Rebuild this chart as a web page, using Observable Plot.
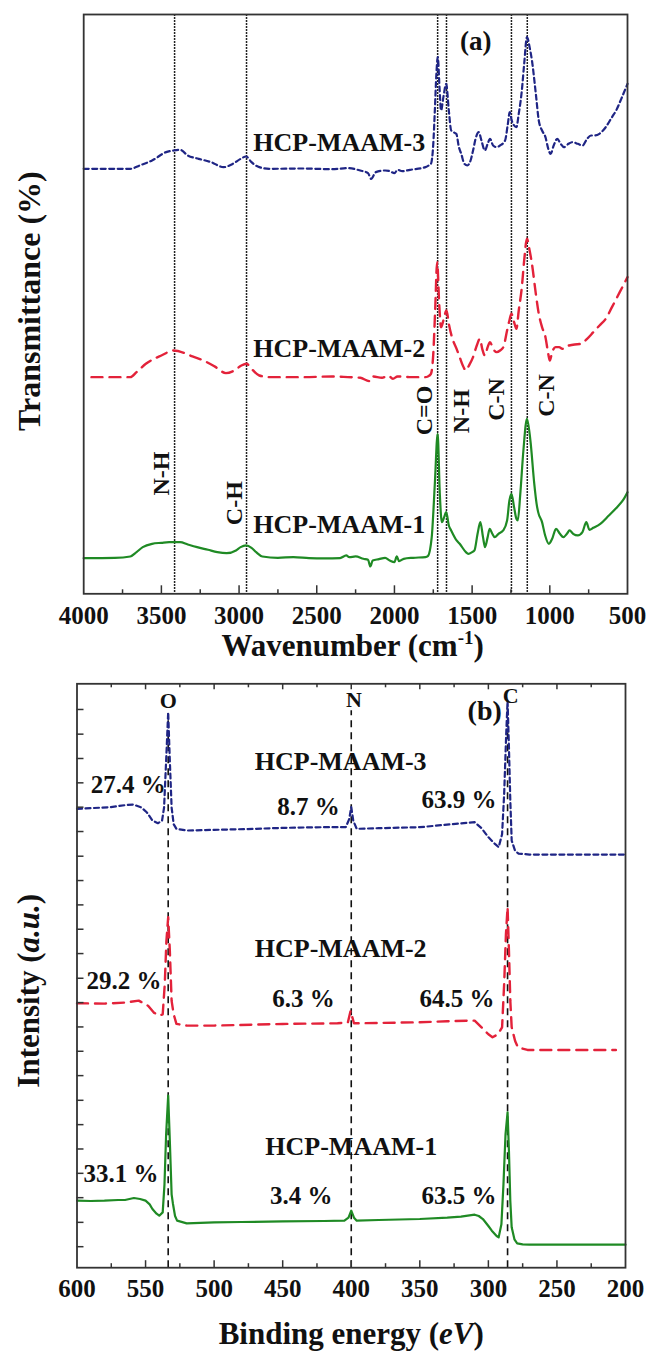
<!DOCTYPE html>
<html><head><meta charset="utf-8">
<script src="https://cdn.jsdelivr.net/npm/d3@7"></script>
<script src="https://cdn.jsdelivr.net/npm/@observablehq/plot@0.6"></script>
<style>
html,body{margin:0;padding:0;background:#fff;}
#wrap{position:relative;width:649px;height:1354px;overflow:hidden;background:#fff;}
#wrap svg{position:absolute;left:0;font-family:"Liberation Serif",serif;}
#wrap svg text{font-family:"Liberation Serif",serif;font-weight:bold;}
</style></head><body><div id="wrap"></div>
<script>
// ---------- DATA: panel (a) FTIR, [wavenumber cm-1, transmittance (a.u.)] ----------
const ftirM1 = [[4000,107],[3800,108],[3700,112],[3660,125],[3620,140],[3560,150],[3500,153],[3450,155],[3380,155],[3330,148],[3270,140],[3200,132],[3140,125],[3080,122],[3020,130],[2990,140],[2955,145],[2920,138],[2890,125],[2850,112],[2750,108],[2650,110],[2550,107],[2450,106],[2350,107],[2310,115],[2290,110],[2250,112],[2200,105],[2170,102],[2155,82],[2140,100],[2100,104],[2060,108],[2030,100],[2000,95],[1985,112],[1970,98],[1940,105],[1880,108],[1800,110],[1785,113],[1760,170],[1740,330],[1722,480],[1708,300],[1695,215],[1680,230],[1667,245],[1650,205],[1635,190],[1600,160],[1580,150],[1540,125],[1525,120],[1500,125],[1485,130],[1465,180],[1447,215],[1430,170],[1417,140],[1400,170],[1387,195],[1370,180],[1355,170],[1330,180],[1300,190],[1275,220],[1260,280],[1247,300],[1230,260],[1215,225],[1206,220],[1190,300],[1170,430],[1147,525],[1125,460],[1100,330],[1085,270],[1075,245],[1050,215],[1030,175],[1006,150],[985,165],[960,195],[935,180],[913,170],[890,180],[873,190],[850,180],[820,175],[790,185],[765,215],[745,192],[720,198],[675,210],[620,235],[567,260],[530,280],[500,305]];
const ftirM2 = [[3950,650],[3700,650],[3660,665],[3600,690],[3500,715],[3420,730],[3350,722],[3300,712],[3230,700],[3150,680],[3085,662],[3030,670],[2985,685],[2952,690],[2920,675],[2870,655],[2800,650],[2600,650],[2400,652],[2300,650],[2220,648],[2160,638],[2140,652],[2080,648],[2040,655],[2010,645],[1980,652],[1900,650],[1800,650],[1785,652],[1765,660],[1750,720],[1738,850],[1725,995],[1712,870],[1700,800],[1685,820],[1665,850],[1650,810],[1630,770],[1600,735],[1580,710],[1560,685],[1540,670],[1520,685],[1494,710],[1470,745],[1450,765],[1435,735],[1418,715],[1400,740],[1385,755],[1365,735],[1342,725],[1320,730],[1299,740],[1275,790],[1260,820],[1247,840],[1230,815],[1215,795],[1200,850],[1180,920],[1165,1000],[1147,1065],[1130,1030],[1115,990],[1090,900],[1071,840],[1050,800],[1028,770],[1010,720],[1000,700],[985,725],[963,740],[940,740],[919,735],[900,742],[876,745],[840,748],[800,750],[760,765],[720,785],[680,805],[640,825],[600,860],[550,905],[500,950]];
const ftirM3 = [[4000,1275],[3700,1275],[3640,1285],[3560,1300],[3470,1325],[3420,1330],[3380,1332],[3330,1315],[3260,1305],[3180,1295],[3100,1280],[3040,1290],[2990,1305],[2955,1312],[2920,1295],[2870,1280],[2800,1275],[2600,1276],[2400,1274],[2300,1277],[2220,1270],[2170,1262],[2150,1245],[2120,1265],[2060,1270],[2030,1268],[2000,1262],[1980,1272],[1950,1268],[1900,1272],[1800,1280],[1780,1285],[1765,1290],[1750,1350],[1740,1450],[1730,1560],[1721,1610],[1710,1520],[1700,1450],[1685,1490],[1667,1530],[1650,1450],[1635,1390],[1620,1385],[1602,1380],[1585,1340],[1570,1320],[1550,1290],[1531,1285],[1510,1300],[1494,1330],[1475,1370],[1457,1385],[1440,1360],[1418,1330],[1400,1350],[1385,1365],[1365,1345],[1342,1340],[1320,1345],[1288,1360],[1270,1410],[1258,1445],[1245,1420],[1230,1405],[1215,1400],[1200,1440],[1180,1510],[1165,1590],[1147,1670],[1130,1640],[1115,1600],[1090,1500],[1071,1420],[1050,1390],[1028,1370],[1010,1335],[995,1320],[975,1345],[952,1365],[930,1350],[909,1340],[880,1350],[854,1355],[820,1350],[789,1345],[760,1365],[735,1375],[710,1375],[681,1380],[640,1400],[600,1430],[573,1450],[540,1485],[500,1530]];
const ftirBands = [3415, 2952, 1722, 1665, 1247, 1145];
const bandLabels = ["N-H", "C-H", "C=O", "N-H", "C-N", "C-N"];
const bandLabelX = [3498, 3033, 1809, 1570, 1344, 1025];
const bandLabelY = [361, 272, 550, 548, 583, 595];
const ftirNames = ["HCP-MAAM-1", "HCP-MAAM-2", "HCP-MAAM-3"];
const ftirNameY = [182, 710, 1328];
const ftirTickLabels = [4000, 3500, 3000, 2500, 2000, 1500, 1000, 500];
const ftirMinorTicks = [3750, 3250, 2750, 2250, 1750, 1250, 750];

// ---------- DATA: panel (b) XPS, [binding energy eV, intensity (a.u.)] ----------
const xpsM1 = [[600,201],[590,200],[580,201],[570,203],[565,203],[558.5,209],[554,206],[550,201],[547,190],[545,176],[542,162],[540,156],[537.5,166],[536.2,250],[535,400],[533.5,516],[532.3,380],[531,220],[530,191],[528.5,155],[527,141],[520,133],[500,136],[480,137],[450,139],[420,140],[405,141],[402,150],[400,171],[398,150],[396,141],[380,143],[350,146],[330,150],[320,153],[310,159],[307,155],[304,146],[300,125],[297.5,111],[294,95],[292.5,91],[290.5,130],[289,250],[287.5,400],[286,466],[285,350],[284,200],[283,121],[281,85],[279,73],[275,70],[270,69],[200,69]];
const xpsM2 = [[600,793],[580,792],[565,795],[555,801],[548,785],[544,765],[540,756],[537.5,760],[536,850],[534.8,980],[533.5,1051],[532.3,950],[531,800],[529.5,760],[527.5,731],[520,726],[500,726],[470,729],[450,731],[410,733],[402.5,735],[400.5,770],[398,733],[380,734],[350,736],[330,739],[310,741],[305,721],[300,700],[297,691],[293,700],[290,721],[288.5,850],[287.2,1000],[286,1081],[285,950],[284,800],[283,721],[280.5,680],[278.5,661],[271.5,653],[240,653],[207,653]];
const xpsM3 = [[600,1376],[590,1378],[576,1381],[565,1387],[559,1389],[553,1380],[549,1365],[545,1341],[541,1333],[538,1340],[536.5,1380],[535,1520],[533.5,1666],[532.3,1520],[531,1380],[529.5,1330],[527.5,1316],[520,1311],[500,1313],[470,1316],[450,1319],[420,1321],[404,1321],[401.5,1345],[400,1381],[398.5,1340],[396,1316],[380,1318],[350,1321],[324,1331],[316,1334],[310,1336],[305,1318],[300,1291],[295,1270],[292.5,1261],[290,1300],[288.5,1420],[287,1600],[286,1700],[285,1560],[284,1400],[283,1281],[280.5,1250],[278,1242],[270,1239],[240,1239],[200,1239]];
const xpsElements = ["O", "N", "C"];
const xpsPeakEV = [533.5, 400, 286];
const xpsLineTop = [1662, 1670, 1686];
const xpsElemLabelX = [533.5, 398, 283.8];
const xpsElemLabelY = [1677, 1682, 1692];
const xpsPercents = ["33.1 %", "3.4 %", "63.5 %", "29.2 %", "6.3 %", "64.5 %", "27.4 %", "8.7 %", "63.9 %"];
const xpsPercentX = [568, 436.4, 321.4, 565.8, 434.9, 322.9, 562.7, 431.1, 321.4];
const xpsPercentY = [256, 192, 192, 837, 781, 781, 1423, 1357, 1378];
const xpsNames = ["HCP-MAAM-1", "HCP-MAAM-2", "HCP-MAAM-3"];
const xpsNameX = [400, 407.7, 407.7];
const xpsNameY = [337, 931, 1492];
const xpsTickLabels = [600, 550, 500, 450, 400, 350, 300, 250, 200];
const xpsMinorTicks = [575, 525, 475, 425, 375, 325, 275, 225];
const xpsYTicks = [63, 136, 210, 283, 356, 429, 502, 576, 649, 722, 795, 868, 942, 1015, 1088, 1161, 1234, 1308, 1381, 1454, 1527, 1600, 1674];

// ---------- styles ----------
const FONT = "Liberation Serif";
const TXT = {fontFamily: FONT, fontWeight: "bold", fill: "#111"};
const GREEN = "#1f8a24", RED = "#e3223a", BLUE = "#1f2585";
const seriesStyle = [
  {stroke: GREEN, strokeWidth: 2.2},
  {stroke: RED, strokeWidth: 2.4, strokeDasharray: "11,7"},
  {stroke: BLUE, strokeWidth: 2.2, strokeDasharray: "5,3.5"}
];
const toRows = arr => arr.map(([x, y]) => ({x, y}));

const wrap = document.getElementById("wrap");

// ---------- panel (a) ----------
const yTopA = 1738;
const plotA = Plot.plot({
  width: 649, height: 665,
  marginLeft: 83.2, marginRight: 22, marginTop: 14, marginBottom: 71.7,
  x: {domain: [4000, 500], axis: null},
  y: {domain: [0, yTopA], axis: null},
  style: {background: "white", overflow: "visible"},
  marks: [
    Plot.ruleX(ftirBands, {x: d => d, stroke: "#222", strokeWidth: 1.5, strokeDasharray: "2,1"}),
    ...[ftirM1, ftirM2, ftirM3].map((s, i) => Plot.line(toRows(s), {x: "x", y: "y", curve: "monotone-x", ...seriesStyle[i]})),
    Plot.ruleX(ftirTickLabels.slice(1, -1), {x: d => d, y1: 0, y2: 24, stroke: "#333", strokeWidth: 1.5}),
    Plot.ruleX(ftirMinorTicks, {x: d => d, y1: 0, y2: 12, stroke: "#333", strokeWidth: 1.5}),
    Plot.frame({stroke: "#333", strokeWidth: 1.8}),
    Plot.text(ftirTickLabels, {x: d => d, text: d => String(d), frameAnchor: "bottom", lineAnchor: "bottom", dy: 30, fontSize: 25, ...TXT}),
    Plot.text(bandLabels, {x: (d, i) => bandLabelX[i], y: (d, i) => bandLabelY[i], text: d => d, rotate: -90, fontSize: 24, ...TXT}),
    Plot.text(ftirNames, {x: 2355, y: (d, i) => ftirNameY[i], text: d => d, lineAnchor: "bottom", fontSize: 26, ...TXT}),
    Plot.text(["(a)"], {x: 1477, y: 1630, text: d => d, lineAnchor: "bottom", fontSize: 27, ...TXT}),
    Plot.text(["Transmittance (%)"], {text: d => d, frameAnchor: "left", textAnchor: "middle", dx: -54, dy: -3, rotate: -90, fontSize: 32, ...TXT}),
    Plot.text(["Wavenumber (cm-1)"], {text: d => d, frameAnchor: "bottom", lineAnchor: "bottom", dx: -3, dy: 61.7, fontSize: 31, ...TXT})
  ]
});
plotA.style.top = "0px";
wrap.appendChild(plotA);

// ---------- panel (b) ----------
const yTopB = 1751;
const plotB = Plot.plot({
  width: 649, height: 689,
  marginLeft: 76.5, marginRight: 24, marginTop: 18.3, marginBottom: 86.8,
  x: {domain: [600, 200], axis: null},
  y: {domain: [0, yTopB], axis: null},
  style: {background: "white", overflow: "visible"},
  marks: [
    Plot.ruleX(xpsPeakEV, {x: d => d, y1: 0, y2: (d, i) => xpsLineTop[i], stroke: "#111", strokeWidth: 1.6, strokeDasharray: "7,5"}),
    ...[xpsM1, xpsM2, xpsM3].map((s, i) => Plot.line(toRows(s), {x: "x", y: "y", ...seriesStyle[i]})),
    Plot.ruleX(xpsTickLabels.slice(1, -1), {x: d => d, y1: 0, y2: 21, stroke: "#333", strokeWidth: 1.5}),
    Plot.ruleX(xpsMinorTicks, {x: d => d, y1: 0, y2: 12, stroke: "#333", strokeWidth: 1.5}),
    Plot.ruleX(xpsTickLabels.slice(1, -1), {x: d => d, y1: yTopB - 18, y2: yTopB, stroke: "#333", strokeWidth: 1.5}),
    Plot.ruleX(xpsMinorTicks, {x: d => d, y1: yTopB - 12, y2: yTopB, stroke: "#333", strokeWidth: 1.5}),
    Plot.ruleY(xpsYTicks, {y: d => d, x1: 600, x2: 594.9, stroke: "#333", strokeWidth: 1.5}),
    Plot.frame({stroke: "#333", strokeWidth: 1.8}),
    Plot.text(xpsTickLabels, {x: d => d, text: d => String(d), frameAnchor: "bottom", lineAnchor: "bottom", dy: 29.5, fontSize: 25, ...TXT}),
    Plot.text(xpsElements, {x: (d, i) => xpsElemLabelX[i], y: (d, i) => xpsElemLabelY[i], text: d => d, lineAnchor: "bottom", fontSize: 22, ...TXT}),
    Plot.text(xpsPercents, {x: (d, i) => xpsPercentX[i], y: (d, i) => xpsPercentY[i], text: d => d, lineAnchor: "bottom", fontSize: 25, ...TXT}),
    Plot.text(xpsNames, {x: (d, i) => xpsNameX[i], y: (d, i) => xpsNameY[i], text: d => d, lineAnchor: "bottom", fontSize: 26, ...TXT}),
    Plot.text(["(b)"], {x: 302.7, y: 1642, text: d => d, lineAnchor: "bottom", fontSize: 28, ...TXT}),
    Plot.text(["Intensity (a.u.)"], {text: d => d, frameAnchor: "left", textAnchor: "middle", dx: -47.5, dy: 15, rotate: -90, fontSize: 31, ...TXT}),
    Plot.text(["Binding energy (eV)"], {text: d => d, frameAnchor: "bottom", lineAnchor: "bottom", dy: 76, fontSize: 31, ...TXT})
  ]
});
plotB.style.top = "665px";
wrap.appendChild(plotB);

// ---------- rich text (italic / superscript) in axis titles ----------
const NS = "http://www.w3.org/2000/svg";
function richText(svg, content, parts) {
  const t = Array.from(svg.querySelectorAll("text")).find(el => el.textContent === content);
  if (!t) return;
  t.textContent = "";
  for (const p of parts) {
    const ts = document.createElementNS(NS, "tspan");
    ts.textContent = p.text;
    if (p.italic) ts.setAttribute("font-style", "italic");
    if (p.size) ts.setAttribute("font-size", p.size);
    if (p.dy) ts.setAttribute("dy", p.dy);
    t.appendChild(ts);
  }
}
richText(plotA, "Wavenumber (cm-1)", [{text: "Wavenumber (cm"}, {text: "-1", size: 19, dy: -12}, {text: ")", dy: 12}]);
richText(plotB, "Intensity (a.u.)", [{text: "Intensity ("}, {text: "a.u.", italic: true}, {text: ")"}]);
richText(plotB, "Binding energy (eV)", [{text: "Binding energy ("}, {text: "eV", italic: true}, {text: ")"}]);
</script></body></html>
